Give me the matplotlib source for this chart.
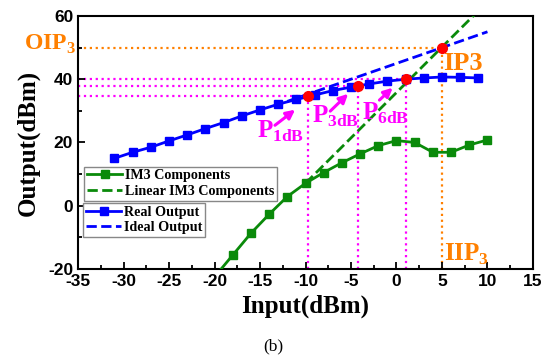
import matplotlib
matplotlib.use("Agg")
import matplotlib.pyplot as plt
from matplotlib.ticker import MultipleLocator

plt.rcParams['mathtext.fontset'] = 'custom'
plt.rcParams['mathtext.rm'] = 'Liberation Serif:bold'
plt.rcParams['mathtext.bf'] = 'Liberation Serif:bold'
plt.rcParams['axes.unicode_minus'] = False

# data
real_x = [-31, -29, -27, -25, -23, -21, -19, -17, -15, -13, -11, -9, -7, -5, -3, -1, 1, 3, 5, 7, 9]
real_y = [15.0, 16.9, 18.5, 20.5, 22.4, 24.4, 26.3, 28.4, 30.3, 32.1, 33.6, 35.0, 36.4, 37.5,
          38.5, 39.4, 40.0, 40.4, 40.7, 40.6, 40.4]
im3_x = [-20, -18, -16, -14, -12, -10, -8, -6, -4, -2, 0, 2, 4, 6, 8, 10]
im3_y = [-22.5, -15.6, -8.7, -2.7, 2.9, 7.1, 10.5, 13.6, 16.4, 19.0, 20.6, 20.0, 16.9, 16.9, 19.2, 20.8]
ideal_x = [-12, 10]
ideal_y = [33, 55]
lin_im3_x = [-10, 10]
lin_im3_y = [7.1, 64.5]

# compression points and intercept
pc_x = [-9.7, -4.2, 1.0]
pc_y = [34.6, 38.0, 40.0]
pc_names = ['1dB', '3dB', '6dB']
ip3_x, ip3_y = 5, 50

orange = '#ff8000'
magenta = '#ff00ff'
green = '#0a8a0a'
blue = '#0000ff'

fig = plt.figure(figsize=(5.5, 3.63), dpi=100)
ax = fig.add_axes([0.142, 0.259, 0.827, 0.697])
ax.set_xlim(-35, 15)
ax.set_ylim(-20, 60)

# dotted guide lines
for x, y in zip(pc_x, pc_y):
    ax.plot([-35, x], [y, y], ls=':', color=magenta, lw=1.6, zorder=1)
    ax.plot([x, x], [-20, y], ls=':', color=magenta, lw=1.6, zorder=1)
ax.plot([-35, ip3_x], [ip3_y, ip3_y], ls=':', color=orange, lw=1.6, zorder=1)
ax.plot([ip3_x, ip3_x], [-20, ip3_y], ls=':', color=orange, lw=1.6, zorder=1)

l1, = ax.plot(im3_x, im3_y, '-s', color=green, lw=2, ms=5.5, label='IM3 Components', zorder=3)
l2, = ax.plot(lin_im3_x, lin_im3_y, '--', color=green, lw=2, label='Linear IM3 Components', zorder=3)
l3, = ax.plot(real_x, real_y, '-s', color=blue, lw=2, ms=5.5, label='Real Output', zorder=3)
l4, = ax.plot(ideal_x, ideal_y, '--', color=blue, lw=2, label='Ideal Output', zorder=3)

ax.plot(pc_x + [ip3_x], pc_y + [ip3_y], 'o', color='red', ms=7, zorder=5)

# P labels with arrows
txt_pos = [(-15.3, 21.4), (-9.3, 26.2), (-3.8, 27.1)]
arr_tail = [(-13.6, 24.9), (-7.5, 29.3), (-2.1, 32.8)]
arr_tip = [(-10.9, 30.9), (-5.1, 36.0), (-0.2, 37.9)]
for (tx, ty), name, tail, tip in zip(txt_pos, pc_names, arr_tail, arr_tip):
    ax.text(tx, ty, r'P$_{\mathrm{' + name + '}}$', color=magenta, fontsize=18,
            family='Liberation Serif', weight='bold', va='baseline', zorder=6)
    ax.annotate('', xy=tip, xytext=tail,
                arrowprops=dict(arrowstyle='-|>', color=magenta, lw=2.2, mutation_scale=13),
                zorder=6)

ax.text(5.1, 42.9, 'IP3', color=orange, fontsize=19, family='Liberation Serif',
        weight='bold', va='baseline')
ax.text(5.2, -17.3, r'IIP$_{\mathrm{3}}$', color=orange, fontsize=18, family='Liberation Serif',
        weight='bold', va='baseline')
ax.text(-41.0, 49.4, r'OIP$_{\mathrm{3}}$', color=orange, fontsize=17, family='Liberation Serif',
        weight='bold', va='baseline', clip_on=False)

leg_font = {'family': 'Liberation Serif', 'weight': 'bold', 'size': 10.2}
leg1 = ax.legend(handles=[l1, l2], loc='upper left', bbox_to_anchor=(0.013, 0.405),
                 borderaxespad=0, prop=leg_font, fancybox=False, edgecolor='#888888',
                 handlelength=2.5, handletextpad=0.2, labelspacing=0.2, borderpad=0.2,
                 framealpha=1)
ax.add_artist(leg1)
ax.legend(handles=[l3, l4], loc='upper left', bbox_to_anchor=(0.011, 0.262),
          borderaxespad=0, prop=leg_font, fancybox=False, edgecolor='#888888',
          handlelength=2.5, handletextpad=0.2, labelspacing=0.2, borderpad=0.2,
          framealpha=1)

ax.xaxis.set_major_locator(MultipleLocator(5))
ax.xaxis.set_minor_locator(MultipleLocator(2.5))
ax.yaxis.set_major_locator(MultipleLocator(20))
ax.yaxis.set_minor_locator(MultipleLocator(10))
ax.tick_params(which='both', direction='in', width=1.3)
ax.tick_params(which='major', length=5)
ax.tick_params(which='minor', length=3)
for lab in ax.get_xticklabels() + ax.get_yticklabels():
    lab.set_family('Liberation Sans')
    lab.set_weight('bold')
    lab.set_fontsize(12.5)
for s in ax.spines.values():
    s.set_linewidth(1.5)

ax.set_xlabel('Input(dBm)', family='Liberation Serif', weight='bold', fontsize=18, labelpad=4)
ax.set_ylabel('Output(dBm)', family='Liberation Serif', weight='bold', fontsize=18, labelpad=6)
fig.text(0.497, 0.035, '(b)', family='Liberation Serif', fontsize=12.5, ha='center')

fig.savefig('out.png', dpi=100)
